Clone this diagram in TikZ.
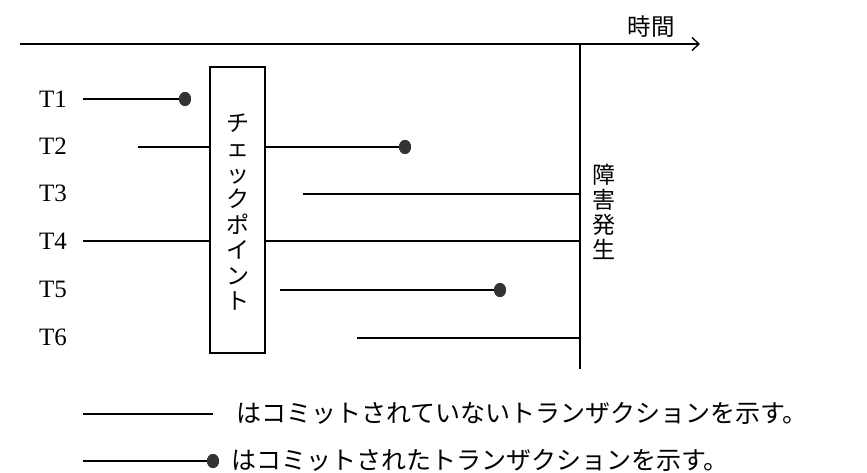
\documentclass[tikz,border=0pt]{standalone}
\usepackage{fontspec}
\setmainfont{Liberation Serif}
\newfontfamily\jp{Noto Sans CJK JP}
\usetikzlibrary{arrows.meta,shapes.geometric}
\definecolor{dotc}{HTML}{333333}
\begin{document}
\begin{tikzpicture}[x=1pt,y=-1pt,
  tx/.style={line width=1.6pt},
  dot/.style={ellipse,fill=dotc,inner sep=0pt,minimum width=12pt,minimum height=14pt},
  tlabel/.style={font=\fontsize{25}{25}\selectfont},
  jptext/.style={font=\jp\fontsize{23.5}{25}\selectfont,inner sep=0pt},
  legtext/.style={font=\jp\fontsize{25}{25}\selectfont,inner sep=0pt,anchor=west}]
\useasboundingbox (0,0) rectangle (867,472);
% time axis
\coordinate (ts) at (20,44);
\coordinate (te) at (700,44);
\draw[line width=1.9pt,-{Straight Barb[length=7pt,width=13pt,line width=1.4pt]}] (ts) -- (te);
\node[jptext] (time) at (651,27) {時間};
% failure line
\coordinate (fa) at (580,44);
\coordinate (fb) at (580,369);
\draw[line width=2.8pt] (fa) -- (fb);
\node[jptext,align=center,font=\jp\fontsize{23}{25}\selectfont] (fail) at (604,212) {障\\害\\発\\生};
% checkpoint box
\node[draw,line width=1.7pt,minimum width=55pt,minimum height=286pt,inner sep=0pt] (cp) at (237.5,210) {};
\node[jptext,align=center,font=\jp\fontsize{23}{25.5}\selectfont] (cptext) at (237.5,212) {チ\\ェ\\ッ\\ク\\ポ\\イ\\ン\\ト};
% labels
\node[tlabel] (t1) at (53,99) {T1};
\node[tlabel] (t2) at (53,146) {T2};
\node[tlabel] (t3) at (53,193) {T3};
\node[tlabel] (t4) at (53,241) {T4};
\node[tlabel] (t5) at (53,289) {T5};
\node[tlabel] (t6) at (53,337) {T6};
% T1
\coordinate (a1) at (83,99);
\node[dot] (d1) at (185,99) {};
\draw[tx] (a1) -- (d1.center);
\node[dot] at (d1) {};
% T2
\coordinate (a2) at (138,147);
\coordinate (b2) at (cp.west |- a2);
\coordinate (c2) at (cp.east |- a2);
\node[dot] (d2) at (405,147) {};
\draw[tx] (a2) -- (b2);
\draw[tx] (c2) -- (d2.center);
\node[dot] at (d2) {};
% T3
\coordinate (a3) at (303,194);
\draw[tx] (a3) -- (fa |- a3);
% T4
\coordinate (a4) at (83,241);
\draw[tx] (a4) -- (cp.west |- a4);
\draw[tx] (cp.east |- a4) -- (fa |- a4);
% T5
\coordinate (a5) at (280,290);
\node[dot] (d5) at (500,290) {};
\draw[tx] (a5) -- (d5.center);
\node[dot] at (d5) {};
% T6
\coordinate (a6) at (357,338);
\draw[tx] (a6) -- (fa |- a6);
% legend
\coordinate (l1a) at (83,414);
\coordinate (l1b) at (213,414);
\draw[tx] (l1a) -- (l1b);
\node[legtext] (leg1) at (236,413) {はコミットされていないトランザクションを示す。};
\coordinate (l2a) at (83,461);
\node[dot] (d6) at (213,461) {};
\draw[tx] (l2a) -- (d6.center);
\node[dot] at (d6) {};
\node[legtext] (leg2) at (231,460) {はコミットされたトランザクションを示す。};
\end{tikzpicture}
\end{document}
